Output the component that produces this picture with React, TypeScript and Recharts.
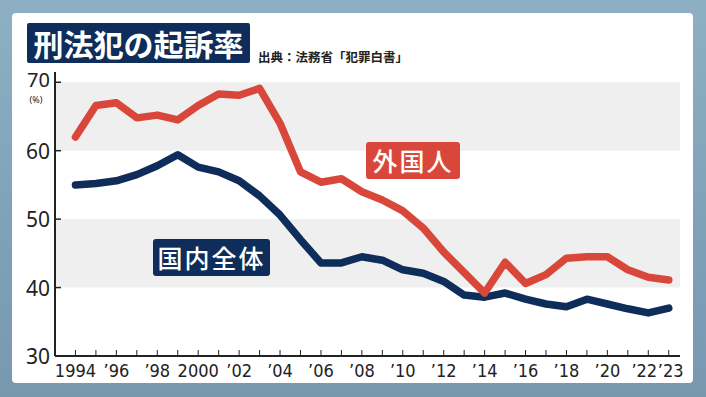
import React from "react";
import { LineChart, Line, XAxis, YAxis, ReferenceArea } from "recharts";

const years = [
  1994, 1995, 1996, 1997, 1998, 1999, 2000, 2001, 2002, 2003, 2004, 2005, 2006, 2007, 2008,
  2009, 2010, 2011, 2012, 2013, 2014, 2015, 2016, 2017, 2018, 2019, 2020, 2021, 2022, 2023,
];
const foreign = [
  62.0, 66.6, 67.0, 64.8, 65.2, 64.5, 66.6, 68.3, 68.1, 69.1, 64.0, 56.9, 55.4, 55.9, 54.0,
  52.8, 51.2, 48.7, 45.2, 42.2, 39.2, 43.7, 40.6, 41.9, 44.3, 44.5, 44.5, 42.6, 41.5, 41.1,
];
const domestic = [
  55.0, 55.2, 55.6, 56.5, 57.8, 59.4, 57.6, 56.9, 55.6, 53.4, 50.6, 47.0, 43.6, 43.6, 44.5,
  44.0, 42.6, 42.1, 40.9, 38.9, 38.6, 39.2, 38.3, 37.6, 37.2, 38.3, 37.6, 36.9, 36.3, 37.0,
];
const yTicks = [30, 40, 50, 60, 70];
const bands = [
  [40, 50],
  [60, 70],
];
const xLabels: Record<number, string> = {
  1994: "1994", 1996: "’96", 1998: "’98", 2000: "2000", 2002: "’02", 2004: "’04",
  2006: "’06", 2008: "’08", 2010: "’10", 2012: "’12", 2014: "’14", 2016: "’16",
  2018: "’18", 2020: "’20", 2022: "’22", 2023: "’23",
};

const data = years.map((y, i) => ({ year: y, foreign: foreign[i], domestic: domestic[i] }));

const RED = "#d8473a";
const NAVY = "#0e2d5a";
const FONT = "'Noto Sans CJK JP', 'Noto Sans', sans-serif";

function YTick(props: any) {
  const { x, y, payload } = props;
  const top = payload.value === 70;
  return (
    <g>
      <line x1={x} x2={x + 6} y1={y} y2={y} stroke="#222" strokeWidth={1.5} />
      <text
        x={x - 5}
        y={top ? y + 5 : y + 8}
        textAnchor="end"
        fontSize={top ? 20 : 21}
        fill="#222"
        fontFamily="'Noto Sans', sans-serif"
      >
        {payload.value}
      </text>
      {top && (
        <text x={x - 19} y={y + 21} textAnchor="middle" fontSize={9} fill="#222" fontFamily="'Noto Sans', sans-serif">
          (%)
        </text>
      )}
    </g>
  );
}

function XTick(props: any) {
  const { x, y, payload } = props;
  const label = xLabels[payload.value];
  const dx = payload.value === 2022 ? -4 : payload.value === 2023 ? 2 : 0;
  return (
    <g>
      <line x1={x} x2={x} y1={y} y2={y - 6} stroke="#222" strokeWidth={1} />
      {label && (
        <text
          x={x + dx}
          y={y + 21}
          textAnchor="middle"
          fontSize={18}
          fill="#222"
          fontFamily="'Liberation Sans Narrow', 'DejaVu Sans Condensed', sans-serif"
        >
          {label}
        </text>
      )}
    </g>
  );
}

export default function App() {
  return (
    <div
      style={{
        position: "fixed",
        left: 0,
        top: 0,
        width: 706,
        height: 397,
        background: "linear-gradient(180deg, #8eb0c4 0%, #7fa2b9 55%, #7898b0 100%)",
        fontFamily: FONT,
        overflow: "hidden",
      }}
    >
      <div
        style={{
          position: "absolute",
          left: 12,
          top: 13,
          width: 681,
          height: 370,
          background: "#fff",
          borderRadius: 4,
        }}
      />
      <div style={{ position: "absolute", left: 0, top: 0 }}>
        <LineChart width={706} height={397} data={data} margin={{ top: 72, right: 26, bottom: 0, left: 10 }}>
          {bands.map(([a, b]) => (
            <ReferenceArea key={a} y1={a} y2={b} fill="#efefef" fillOpacity={1} stroke="none" ifOverflow="visible" />
          ))}
          <XAxis
            dataKey="year"
            type="number"
            domain={[1993, 2023.55]}
            ticks={years}
            interval={0}
            tickSize={0}
            tickMargin={0}
            tick={<XTick />}
            axisLine={{ stroke: "#222", strokeWidth: 2 }}
            height={41}
          />
          <YAxis
            type="number"
            domain={[30, 71.5]}
            ticks={yTicks}
            interval={0}
            tickSize={0}
            tickMargin={0}
            tick={<YTick />}
            axisLine={{ stroke: "#222", strokeWidth: 2 }}
            width={45}
          />
          <Line
            type="linear"
            dataKey="domestic"
            stroke={NAVY}
            strokeWidth={7.5}
            strokeLinejoin="round"
            strokeLinecap="round"
            dot={false}
            isAnimationActive={false}
          />
          <Line
            type="linear"
            dataKey="foreign"
            stroke={RED}
            strokeWidth={7.5}
            strokeLinejoin="round"
            strokeLinecap="round"
            dot={false}
            isAnimationActive={false}
          />
        </LineChart>
      </div>
      <div
        style={{
          position: "absolute",
          left: 27,
          top: 23,
          width: 223,
          height: 40,
          background: NAVY,
          borderRadius: 2,
          color: "#fff",
          fontSize: 30,
          fontWeight: 700,
          lineHeight: "40px",
          textAlign: "center",
        }}
      >
        刑法犯の起訴率
      </div>
      <div
        style={{
          position: "absolute",
          left: 258,
          top: 47,
          fontSize: 12.5,
          fontWeight: 700,
          color: "#222",
          whiteSpace: "nowrap",
        }}
      >
        出典：法務省「犯罪白書」
      </div>
      <div
        style={{
          position: "absolute",
          left: 366,
          top: 142,
          width: 94,
          height: 37,
          background: RED,
          borderRadius: 3,
          color: "#fff",
          fontSize: 25,
          fontWeight: 500,
          lineHeight: "37px",
          textAlign: "center",
          letterSpacing: 2,
        }}
      >
        外国人
      </div>
      <div
        style={{
          position: "absolute",
          left: 153,
          top: 239,
          width: 117,
          height: 37,
          background: NAVY,
          borderRadius: 3,
          color: "#fff",
          fontSize: 25,
          fontWeight: 500,
          lineHeight: "37px",
          textAlign: "center",
          letterSpacing: 2,
        }}
      >
        国内全体
      </div>
    </div>
  );
}
